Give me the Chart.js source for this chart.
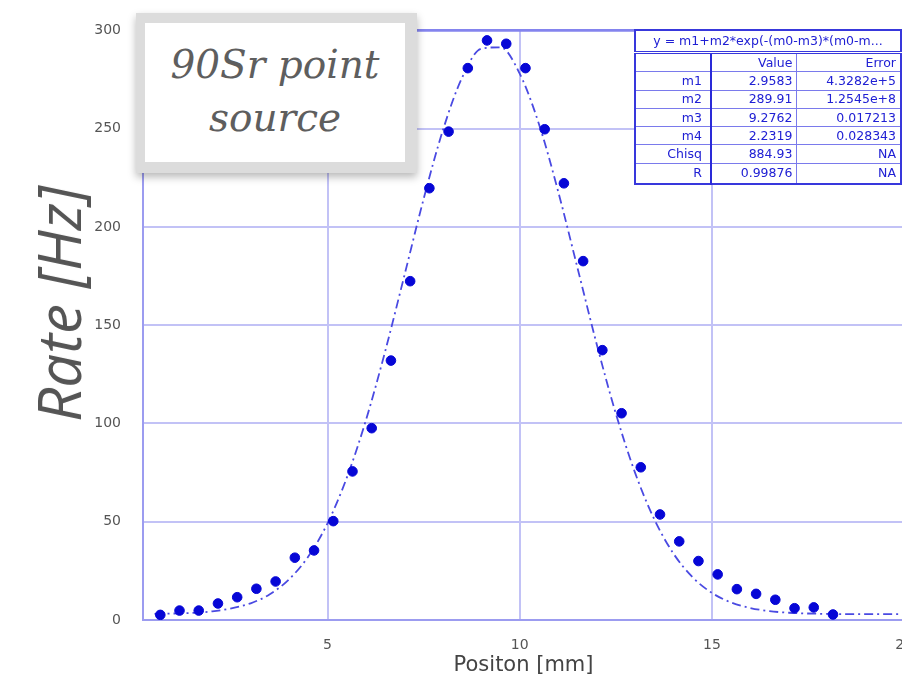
<!DOCTYPE html>
<html>
<head>
<meta charset="utf-8">
<script src="https://cdn.jsdelivr.net/npm/chart.js@4.4.1/dist/chart.umd.min.js"></script>
<style>
  html, body { margin: 0; padding: 0; background: #fff; }
  body { width: 902px; height: 678px; overflow: hidden; position: relative; }
  #wrap { position: absolute; left: 0; top: 0; width: 930px; height: 678px; }
  #rateChart { filter: blur(0.5px); }
  #note {
    position: absolute; left: 136px; top: 13px; width: 281px; height: 160px;
    background: #dcdcdc; box-shadow: 0 4px 8px rgba(0,0,0,0.28);
  }
  #note .inner {
    position: absolute; left: 9px; top: 10px; right: 12px; bottom: 11px;
    background: #fff; text-align: center;
    font: italic 39px "DejaVu Serif"; line-height: 53px; color: #5e5e5e;
    padding-top: 15px; box-sizing: border-box;
  }
  #ylab {
    position: absolute; left: 58px; top: 304px;
    transform: translate(-50%, -50%) rotate(-90deg);
    white-space: nowrap; font: italic 60px "Open Sans"; color: #555;
  }
  #fit {
    position: absolute; left: 634px; top: 29px;
    border-collapse: collapse; table-layout: fixed; background: #fff;
    font: 12.5px "DejaVu Sans"; color: #2020d4; border: 2px solid #3838dc;
    filter: blur(0.3px);
  }
  #fit td {
    border: 1px solid #7a7aec; height: 17.3px; line-height: 16px;
    padding: 0 4px 0 0; text-align: right; white-space: nowrap; overflow: hidden;
  }
  #fit td.eq { text-align: center; height: 20px; border-bottom: 3px double #3838dc; padding: 0; }
  #fit td.name { border-right: 2px solid #2a2ad8; padding-right: 8px; }
  #fit tr:last-child td { height: 19px; }
</style>
</head>
<body>
<div id="wrap"><canvas id="rateChart"></canvas></div>
<div id="note"><div class="inner">90Sr point<br>source</div></div>
<div id="ylab">Rate [Hz]</div>
<table id="fit">
  <colgroup><col style="width:78px"><col style="width:88px"><col style="width:106px"></colgroup>
</table>
<script>
// measured points (position in mm, rate in Hz)
const positions = [0.65, 1.15, 1.65, 2.15, 2.65, 3.15, 3.65, 4.15, 4.65, 5.15, 5.65, 6.15,
  6.65, 7.15, 7.65, 8.15, 8.65, 9.15, 9.65, 10.15, 10.65, 11.15, 11.65, 12.15,
  12.65, 13.15, 13.65, 14.15, 14.65, 15.15, 15.65, 16.15, 16.65, 17.15, 17.65, 18.15];
const rates = [2.6, 4.8, 4.8, 8.4, 11.6, 15.9, 19.6, 31.7, 35.4, 50.3, 75.6, 97.6,
  132, 172.4, 219.7, 248.5, 280.8, 294.9, 293.2, 280.8, 249.7, 222.2, 182.6, 137.3,
  105.2, 77.7, 53.7, 40, 30, 23.2, 15.7, 13.3, 10.3, 6, 6.4, 2.8];

// fitted curve
const fitX = [0.5, 1, 1.5, 2, 2.5, 3, 3.5, 4, 4.5, 5, 5.5, 6, 6.5, 7, 7.5, 8, 8.5, 9, 9.5, 10,
  10.5, 11, 11.5, 12, 12.5, 13, 13.5, 14, 14.5, 15, 15.5, 16, 16.5, 17, 17.5, 18, 18.5, 19, 19.5, 20];
const fitY = [3.1, 3.3, 3.6, 4.4, 5.9, 8.5, 13.1, 20.7, 32.3, 49.2, 72.3, 101.7, 136.7, 175.3, 214.2, 249.1, 275.9, 290.7, 291.4, 278.0,
  252.4, 218.1, 179.4, 140.6, 105.1, 75.0, 51.3, 33.8, 21.7, 13.8, 8.9, 6.1, 4.5, 3.7, 3.3, 3.1, 3.0, 3.0, 3.0, 3.0];

const xTicks = [5, 10, 15, 20];
const yTicks = [0, 50, 100, 150, 200, 250, 300];

// fit box
const fitTitle = 'y = m1+m2*exp(-(m0-m3)*(m0-m...';
const paramNames = ['m1', 'm2', 'm3', 'm4', 'Chisq', 'R'];
const paramValues = ['2.9583', '289.91', '9.2762', '2.2319', '884.93', '0.99876'];
const paramErrors = ['4.3282e+5', '1.2545e+8', '0.017213', '0.028343', 'NA', 'NA'];

const table = document.getElementById('fit');
let html = '<tr><td class="eq" colspan="3">' + fitTitle + '</td></tr>';
html += '<tr><td class="name"></td><td>Value</td><td>Error</td></tr>';
paramNames.forEach((n, i) => {
  html += '<tr><td class="name">' + n + '</td><td>' + paramValues[i] + '</td><td>' + paramErrors[i] + '</td></tr>';
});
table.insertAdjacentHTML('beforeend', html);

Chart.defaults.font.family = '"DejaVu Sans"';

const gridColor = '#c2c2f6';

new Chart(document.getElementById('rateChart'), {
  type: 'scatter',
  data: {
    datasets: [
      {
        label: 'data',
        data: positions.map((x, i) => ({x: x, y: rates[i]})),
        backgroundColor: '#0606d6',
        borderColor: '#0606d6',
        pointRadius: 4.8,
        pointHoverRadius: 4.8
      },
      {
        label: 'fit',
        data: fitX.map((x, i) => ({x: x, y: fitY[i]})),
        showLine: true,
        pointRadius: 0,
        borderColor: '#4a4ae2',
        borderWidth: 1.8,
        borderDash: [9, 4, 2, 4],
        cubicInterpolationMode: 'monotone'
      }
    ]
  },
  options: {
    responsive: true,
    maintainAspectRatio: false,
    animation: false,
    layout: { padding: { left: 93, top: 30, right: 0, bottom: 0 } },
    plugins: { legend: { display: false }, tooltip: { enabled: false } },
    scales: {
      x: {
        type: 'linear', min: 0.2, max: 20,
        afterBuildTicks: (s) => { s.ticks = xTicks.map(v => ({value: v})); },
        afterFit: (s) => { s.height = 58; },
        ticks: { padding: 17, color: '#555', font: { size: 14 } },
        grid: { color: gridColor, lineWidth: 2, drawTicks: false },
        border: { color: '#9c9cf0', width: 2 },
        title: { display: true, text: 'Positon [mm]', color: '#444', font: { size: 21 }, padding: { top: 0, bottom: 0 } }
      },
      y: {
        type: 'linear', min: 0, max: 300,
        afterBuildTicks: (s) => { s.ticks = yTicks.map(v => ({value: v})); },
        afterFit: (s) => { s.width = 50; },
        ticks: { padding: 22, color: '#555', font: { size: 14 } },
        grid: {
          color: (c) => (c.tick && c.tick.value === 300) ? '#8484ee' : gridColor,
          lineWidth: (c) => (c.tick && c.tick.value === 300) ? 2.8 : 2,
          drawTicks: false
        },
        border: { color: '#9c9cf0', width: 2 }
      }
    }
  }
});
</script>
</body>
</html>
